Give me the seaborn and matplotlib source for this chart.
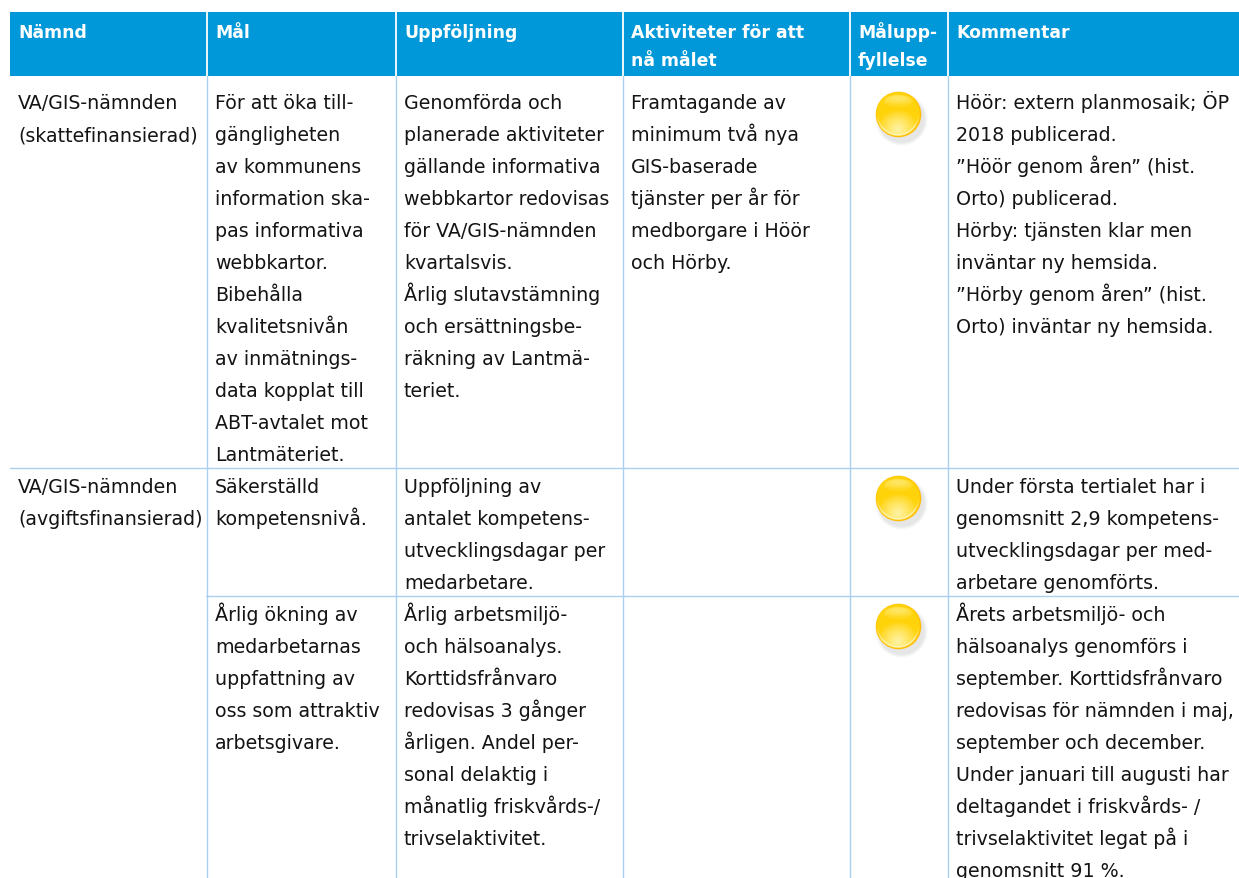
import matplotlib
matplotlib.use("Agg")
import matplotlib.pyplot as plt
from matplotlib.patches import Rectangle
import numpy as np
import pandas as pd
import seaborn as sns

headers = [["Nämnd"], ["Mål"], ["Uppföljning"], ["Aktiviteter för att", "nå målet"],
           ["Målupp-", "fyllelse"], ["Kommentar"]]

row1 = [
    ["VA/GIS-nämnden", "(skattefinansierad)"],
    ["För att öka till-", "gängligheten", "av kommunens", "information ska-", "pas informativa",
     "webbkartor.", "Bibehålla", "kvalitetsnivån", "av inmätnings-", "data kopplat till",
     "ABT-avtalet mot", "Lantmäteriet."],
    ["Genomförda och", "planerade aktiviteter", "gällande informativa", "webbkartor redovisas",
     "för VA/GIS-nämnden", "kvartalsvis.", "Årlig slutavstämning", "och ersättningsbe-",
     "räkning av Lantmä-", "teriet."],
    ["Framtagande av", "minimum två nya", "GIS-baserade", "tjänster per år för",
     "medborgare i Höör", "och Hörby."],
    [],
    ["Höör: extern planmosaik; ÖP", "2018 publicerad.", "”Höör genom åren” (hist.",
     "Orto) publicerad.", "Hörby: tjänsten klar men", "inväntar ny hemsida.",
     "”Hörby genom åren” (hist.", "Orto) inväntar ny hemsida."],
]
row2 = [
    ["VA/GIS-nämnden", "(avgiftsfinansierad)"],
    ["Säkerställd", "kompetensnivå."],
    ["Uppföljning av", "antalet kompetens-", "utvecklingsdagar per", "medarbetare."],
    [],
    [],
    ["Under första tertialet har i", "genomsnitt 2,9 kompetens-", "utvecklingsdagar per med-",
     "arbetare genomförts."],
]
row3 = [
    [],
    ["Årlig ökning av", "medarbetarnas", "uppfattning av", "oss som attraktiv", "arbetsgivare."],
    ["Årlig arbetsmiljö-", "och hälsoanalys.", "Korttidsfrånvaro", "redovisas 3 gånger",
     "årligen. Andel per-", "sonal delaktig i", "månatlig friskvårds-/", "trivselaktivitet."],
    [],
    [],
    ["Årets arbetsmiljö- och", "hälsoanalys genomförs i", "september. Korttidsfrånvaro",
     "redovisas för nämnden i maj,", "september och december.", "Under januari till augusti har",
     "deltagandet i friskvårds- /", "trivselaktivitet legat på i", "genomsnitt 91 %."],
]
rows = [row1, row2, row3]

# layout in pixels
W, H = 1239, 879
col_text_x = [18, 215, 404, 631, 858, 956]
col_lines = [206.5, 395.5, 622.5, 849.5, 947.5]
head_top, head_bot = 13, 77
row_baseline = [109, 493, 621]
row_rules = [(468.5, 10), (596.5, 206)]
line_h = 32
dot_x = 898
dot_y = [115, 499, 627]

BLUE = "#0098D8"
RULE = "#A9D0F0"
INK = "#141414"
FONT = "DejaVu Sans"
BODY_PT = 13.7
HEAD_PT = 12.4

sns.set_theme(style="white", rc={"font.family": [FONT]})
fig = plt.figure(figsize=(W / 100, H / 100), dpi=100)
ax = fig.add_axes([0, 0, 1, 1])

ax.add_patch(Rectangle((10, head_top), W - 10, head_bot - head_top, color=BLUE, lw=0, zorder=1))
for x in col_lines:
    ax.plot([x, x], [head_top, head_bot], color="white", lw=1.3, zorder=2)
    ax.plot([x, x], [head_bot, H], color=RULE, lw=1.0, zorder=2)
for y, x0 in row_rules:
    ax.plot([x0, W], [y, y], color=RULE, lw=1.0, zorder=2)

for x, lines in zip(col_text_x, headers):
    for i, s in enumerate(lines):
        ax.text(x, 38 + i * 28.5, s, color="white", fontsize=HEAD_PT, fontweight="bold",
                va="baseline", ha="left", zorder=3)

for base, row in zip(row_baseline, rows):
    for x, lines in zip(col_text_x, row):
        for i, s in enumerate(lines):
            ax.text(x, base + i * line_h, s, color=INK, fontsize=BODY_PT,
                    va="baseline", ha="left", zorder=3, clip_on=True)

# traffic-light dots: soft shadow and rim through seaborn, glossy shading on top
dots = pd.DataFrame({"x": [dot_x] * 3, "y": dot_y})
shadow = dots.assign(x=dots.x + 3, y=dots.y + 5)
for s, alpha in [(1450, 0.025), (1340, 0.035), (1230, 0.045), (1130, 0.06)]:
    sns.scatterplot(data=shadow, x="x", y="y", s=s, color="#666666", alpha=alpha,
                    linewidth=0, ax=ax, legend=False, zorder=4)
sns.scatterplot(data=dots, x="x", y="y", s=1075, color="#FFBE00", linewidth=0,
                ax=ax, legend=False, zorder=5)

R = 21.7
n = 131
gx, gy = np.meshgrid(np.linspace(-R, R, n), np.linspace(-R, R, n))
d = np.hypot(gx, gy) / R
base = np.array([255, 211, 10]) / 255
glow = np.array([255, 243, 165]) / 255
top = np.array([255, 246, 170]) / 255
rimc = np.array([255, 250, 215]) / 255
t_glow = np.clip(1 - np.hypot(gx / 20, (gy - 15) / 19), 0, 1) ** 0.8
t_top = (np.clip(1 - np.hypot(gx / 14.5, (gy + 12.5) / 6.5), 0, 1) ** 0.3
         * np.clip(0.85 - (gy + 18) / 14, 0.15, 1))
t_rim = np.clip(1 - np.abs(d - 0.95) / 0.05, 0, 1) * np.clip(gy / 14, 0, 1)
img = base[None, None, :] * (1 - t_glow[..., None]) + glow[None, None, :] * t_glow[..., None]
img = img * (1 - t_top[..., None]) + top[None, None, :] * t_top[..., None]
img = img * (1 - t_rim[..., None]) + rimc[None, None, :] * t_rim[..., None]
alpha = np.clip((1 - d) * R + 0.5, 0, 1)
rgba = np.dstack([img, alpha])
for cy in dot_y:
    ax.imshow(rgba, extent=(dot_x - R, dot_x + R, cy + R, cy - R), zorder=6,
              interpolation="bilinear", aspect="auto")

ax.set_xlim(0, W)
ax.set_ylim(H, 0)
ax.set_xlabel("")
ax.set_ylabel("")
ax.axis("off")
fig.savefig("out.png", dpi=100, facecolor="white")
